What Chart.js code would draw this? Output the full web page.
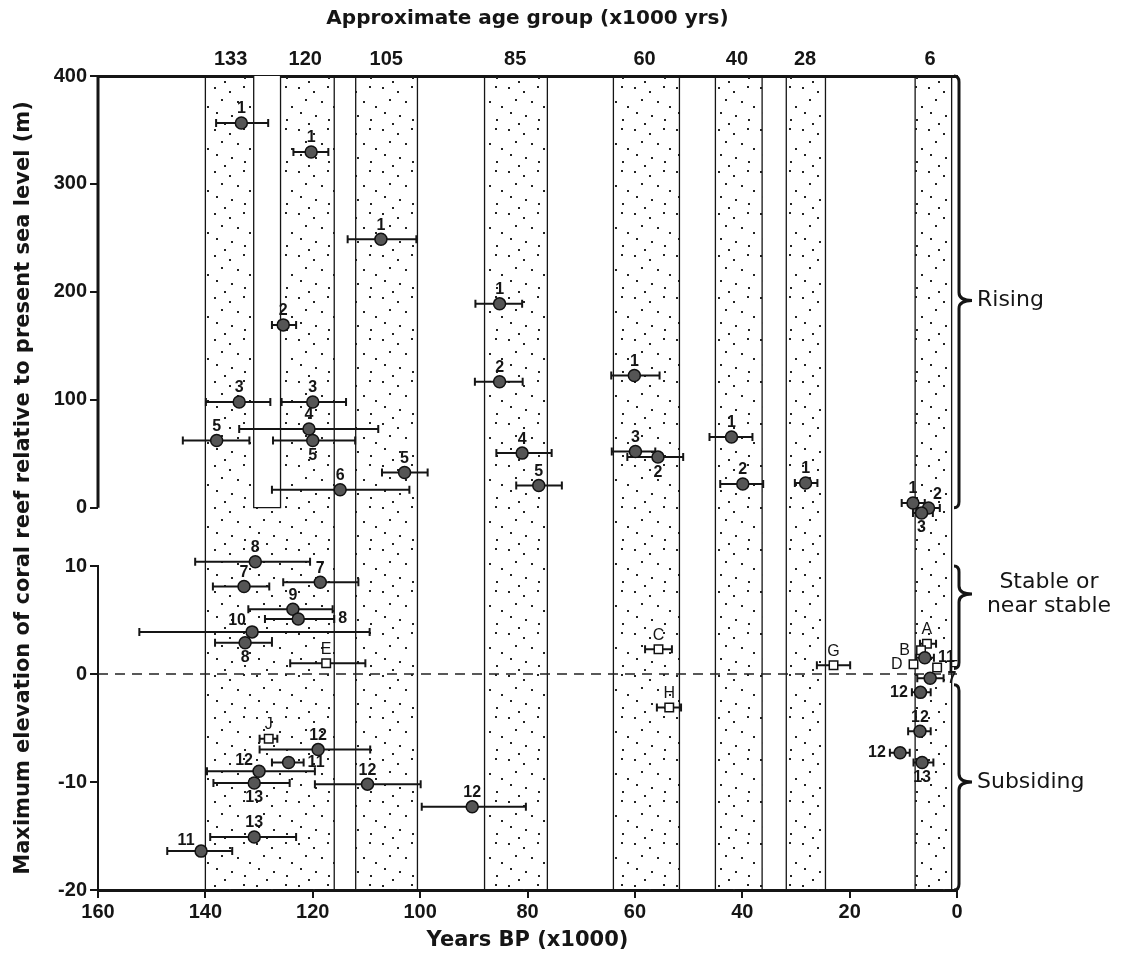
<!DOCTYPE html>
<html lang="en">
<head>
  <meta charset="UTF-8" />
  <title>Coral reef elevation vs age</title>
  <script src="https://cdn.jsdelivr.net/npm/chart.js"></script>
  <style>
    body { margin: 0; padding: 0; background: #fff; }
    #chartContainer { width: 1122px; height: 971px; }
  </style>
</head>
<body>
  <div id="chartContainer"><canvas id="myChart"></canvas></div>

  <script>
    // age groups named along the top (x1000 yrs) and where their names sit
    const ageGroups  = ['133', '120', '105', '85', '60', '40', '28', '6'];
    const ageGroupAt = [135.3, 121.4, 106.3, 82.3, 58.2, 41, 28.3, 5];

    // stippled age bands, years BP (x1000)
    const bandFrom = [140, 112, 88, 64, 45, 31.8, 7.8];
    const bandTo   = [116, 100.5, 76.3, 51.7, 36.3, 24.5, 1];
    // blank strip between the 133 and 120 bands, upper panel only
    const stripFrom = 131, stripTo = 126;

    // upper panel: rising reefs (m)
    const upAge  = [133.3, 120.3, 107.3, 85.2, 125.5, 85.2, 133.7, 120.0, 120.7, 137.9, 120.0, 114.9, 102.9, 81.0, 77.9, 60.1, 59.9, 55.7, 42.0, 39.9, 28.2, 8.2, 5.3, 6.6];
    const upElev = [356.5, 329.6, 248.8, 188.9, 169.4, 116.7, 97.9, 97.9, 72.9, 62.3, 62.3, 16.7, 32.7, 50.6, 20.6, 122.5, 52.1, 46.9, 65.5, 21.9, 22.9, 4.4, -0.3, -4.9];
    const upLo   = [128.3, 117.1, 100.7, 81.0, 123.1, 80.9, 127.9, 113.8, 107.8, 131.8, 112.1, 102.0, 98.6, 75.5, 73.6, 55.4, 56.2, 51.0, 38.1, 36.1, 26.0, 6.0, 3.2, 4.5];
    const upHi   = [138.0, 123.6, 113.5, 89.7, 127.6, 89.8, 139.9, 125.8, 133.7, 144.2, 127.4, 127.6, 107.1, 85.8, 82.1, 64.4, 64.3, 61.4, 46.1, 44.1, 30.2, 10.3, 7.5, 8.2];
    const upTag  = ['1', '1', '1', '1', '2', '2', '3', '3', '4', '5', '5', '6', '5', '4', '5', '1', '3', '2', '1', '2', '1', '1', '2', '3'];

    // lower panel: stable and subsiding reefs (m), dated samples
    const lowAge  = [130.7, 132.8, 118.6, 123.7, 122.7, 131.3, 132.6, 6.0, 5.0, 6.8, 6.9, 10.6, 6.5, 119.0, 124.5, 130.0, 130.9, 109.8, 90.3, 130.9, 140.8];
    const lowElev = [10.4, 8.1, 8.5, 6.0, 5.1, 3.9, 2.9, 1.5, -0.4, -1.7, -5.3, -7.3, -8.2, -7.0, -8.2, -9.0, -10.1, -10.2, -12.3, -15.1, -16.4];
    const lowLo   = [120.5, 128.1, 111.5, 116.3, 116.0, 109.4, 127.6, 4.3, 2.5, 4.9, 4.9, 8.8, 4.4, 109.3, 121.7, 119.6, 124.3, 99.9, 80.3, 123.1, 135.0];
    const lowHi   = [141.9, 138.6, 125.5, 132.0, 128.9, 152.3, 138.2, 7.6, 7.4, 8.4, 9.1, 12.5, 8.1, 129.9, 127.6, 139.7, 138.5, 119.6, 99.7, 139.1, 147.1];
    const lowTag  = ['8', '7', '7', '9', '8', '10', '8', '11', '7', '12', '12', '12', '13', '12', '11', '12', '13', '12', '12', '13', '11'];

    // lower panel: lettered sites (open squares)
    const sqAge  = [117.5, 55.6, 53.6, 23.0, 5.6, 6.7, 8.1, 3.7, 128.2];
    const sqElev = [1.0, 2.3, -3.1, 0.8, 2.8, 2.2, 0.9, 0.6, -6.0];
    const sqLo   = [110.2, 53.1, 51.4, 19.9, 3.9, null, null, null, 126.6];
    const sqHi   = [124.2, 58.1, 55.9, 26.1, 6.9, null, null, null, 129.9];
    const sqTag  = ['E', 'C', 'H', 'G', 'A', 'B', 'D', 'F', 'J'];

    // where each tag sits: a above, b below, r/l beside the bar, al/ar diagonal
    const upSide  = ['a', 'a', 'a', 'a', 'a', 'a', 'a', 'a', 'a', 'a', 'b', 'a', 'a', 'a', 'a', 'a', 'a', 'b', 'a', 'a', 'a', 'a', 'ar', 'b'];
    const lowSide = ['a', 'a', 'a', 'a', 'r', 'al', 'b', 'r', 'r', 'l', 'a', 'l', 'b', 'a', 'r', 'al', 'b', 'a', 'a', 'a', 'al'];
    const sqSide  = ['a', 'a', 'a', 'a', 'a', 'l', 'l', 'r', 'a'];

    // brackets on the right
    const braceAxis = ['yTop', 'yBot', 'yBot'];
    const braceFrom = [400, 10, -1];
    const braceTo   = [0, 0.5, -20];
    const braceTip  = [192, 7.4, -10];
    const braceText = [['Rising'], ['Stable or', 'near stable'], ['Subsiding']];

    const yTitle = 'Maximum elevation of coral reef relative to present sea level (m)';

    const ctx = document.getElementById('myChart').getContext('2d');

    // stipple tile for the age bands
    const tile = document.createElement('canvas');
    tile.width = 42; tile.height = 42;
    const tg = tile.getContext('2d');
    tg.fillStyle = '#222';
    [[4, 3], [19, 7], [33, 2], [11, 15], [27, 17], [39, 22], [6, 28], [21, 31], [34, 35], [14, 39]]
      .forEach(([a, b]) => tg.fillRect(a, b, 2, 2));
    const stipple = ctx.createPattern(tile, 'repeat');

    function pts(age, elev, lo, hi, tag, side) {
      return age.map((a, i) => ({ x: a, y: elev[i], lo: lo[i], hi: hi[i], tag: tag[i], side: side[i] }));
    }

    const ink = '#151515';
    const tickFont = { family: 'Liberation Sans', size: 20, weight: 'bold' };

    const marks = {
      id: 'marks',
      beforeDatasetsDraw(chart) {
        const c = chart.ctx, xs = chart.scales.x;
        const { top, bottom } = chart.chartArea;
        c.save();
        bandFrom.forEach((f, i) => {
          const x0 = xs.getPixelForValue(f), x1 = xs.getPixelForValue(bandTo[i]);
          c.fillStyle = stipple;
          c.fillRect(x0, top, x1 - x0, bottom - top);
          c.strokeStyle = ink; c.lineWidth = 1.3;
          c.beginPath();
          c.moveTo(x0, top); c.lineTo(x0, bottom);
          c.moveTo(x1, top); c.lineTo(x1, bottom);
          c.stroke();
        });
        const s0 = xs.getPixelForValue(stripFrom), s1 = xs.getPixelForValue(stripTo);
        const sy = chart.scales.yTop.getPixelForValue(0);
        c.fillStyle = '#fff';
        c.fillRect(s0, top, s1 - s0, sy - top);
        c.beginPath();
        c.moveTo(s0, top); c.lineTo(s0, sy); c.lineTo(s1, sy); c.lineTo(s1, top);
        c.stroke();

        // horizontal age error bars
        c.strokeStyle = ink; c.lineWidth = 2;
        chart.data.datasets.forEach(ds => {
          if (!ds.tagged) return;
          const ys = chart.scales[ds.yAxisID];
          ds.data.forEach(p => {
            if (p.lo == null) return;
            const a = xs.getPixelForValue(p.hi), b = xs.getPixelForValue(p.lo), y = ys.getPixelForValue(p.y);
            c.beginPath();
            c.moveTo(a, y); c.lineTo(b, y);
            c.moveTo(a, y - 4); c.lineTo(a, y + 4);
            c.moveTo(b, y - 4); c.lineTo(b, y + 4);
            c.stroke();
          });
        });
        c.restore();
      },
      afterDatasetsDraw(chart) {
        const c = chart.ctx, xs = chart.scales.x;
        c.save();
        c.fillStyle = ink;
        c.textBaseline = 'middle';
        chart.data.datasets.forEach(ds => {
          if (!ds.tagged) return;
          const ys = chart.scales[ds.yAxisID];
          ds.data.forEach(p => {
            const px = xs.getPixelForValue(p.x), py = ys.getPixelForValue(p.y);
            const l = p.hi == null ? px - 7 : xs.getPixelForValue(p.hi);
            const r = p.lo == null ? px + 7 : xs.getPixelForValue(p.lo);
            c.font = /\d/.test(p.tag) ? 'bold 16px "Liberation Sans"' : '16px "Liberation Sans"';
            let tx = px, ty = py - 14, al = 'center';
            if (p.side === 'b') ty = py + 15;
            else if (p.side === 'r') { tx = r + 4; al = 'left'; ty = py; }
            else if (p.side === 'l') { tx = l - 4; al = 'right'; ty = py; }
            else if (p.side === 'al') { tx = px - 15; ty = py - 11; }
            else if (p.side === 'ar') { tx = px + 9; ty = py - 13; }
            c.textAlign = al;
            c.fillText(p.tag, tx, ty);
          });
        });
        c.restore();
      },
      afterDraw(chart) {
        const c = chart.ctx, area = chart.chartArea, yT = chart.scales.yTop;
        c.save();
        c.strokeStyle = ink;
        c.lineWidth = 3;
        c.beginPath();
        c.moveTo(area.left, yT.getPixelForValue(400));
        c.lineTo(area.left, yT.getPixelForValue(0));
        c.stroke();

        // right-hand brackets and their words
        const x = area.right + 2;
        c.fillStyle = ink;
        c.font = '22px "DejaVu Sans"';
        c.textBaseline = 'middle';
        braceFrom.forEach((f, i) => {
          const ys = chart.scales[braceAxis[i]];
          const y0 = ys.getPixelForValue(f), y1 = ys.getPixelForValue(braceTo[i]), ym = ys.getPixelForValue(braceTip[i]);
          c.beginPath();
          c.moveTo(x - 5, y0);
          c.quadraticCurveTo(x, y0, x, y0 + 6);
          c.lineTo(x, ym - 8);
          c.quadraticCurveTo(x, ym, x + 13, ym);
          c.quadraticCurveTo(x, ym, x, ym + 8);
          c.lineTo(x, y1 - 6);
          c.quadraticCurveTo(x, y1, x - 5, y1);
          c.stroke();
          const lines = braceText[i];
          if (lines.length > 1) {
            c.textAlign = 'center';
            lines.forEach((t, k) => c.fillText(t, x + 90, ym + (k - (lines.length - 1) / 2) * 24));
          } else {
            c.textAlign = 'left';
            c.fillText(lines[0], x + 18, ym);
          }
        });

        c.translate(24, (area.top + area.bottom) / 2 + 5);
        c.rotate(-Math.PI / 2);
        c.font = 'bold 21px "DejaVu Sans"';
        c.textAlign = 'center';
        c.fillText(yTitle, 0, 0);
        c.restore();
      }
    };

    const chart = new Chart(ctx, {
      type: 'scatter',
      data: {
        datasets: [
          {
            tagged: true,
            data: pts(upAge, upElev, upLo, upHi, upTag, upSide),
            yAxisID: 'yTop',
            clip: false,
            pointRadius: 6, pointStyle: 'circle',
            backgroundColor: '#555', borderColor: '#111', borderWidth: 1.5
          },
          {
            tagged: true,
            data: pts(lowAge, lowElev, lowLo, lowHi, lowTag, lowSide),
            yAxisID: 'yBot',
            clip: false,
            pointRadius: 6, pointStyle: 'circle',
            backgroundColor: '#555', borderColor: '#111', borderWidth: 1.5
          },
          {
            tagged: true,
            data: pts(sqAge, sqElev, sqLo, sqHi, sqTag, sqSide),
            yAxisID: 'yBot',
            clip: false,
            pointRadius: 6, pointStyle: 'rect',
            backgroundColor: '#fff', borderColor: '#111', borderWidth: 1.5
          },
          {
            // present sea level
            type: 'line',
            data: [{ x: 160, y: 0 }, { x: 0, y: 0 }],
            yAxisID: 'yBot',
            showLine: true,
            borderColor: '#222', borderWidth: 1.5, borderDash: [10, 7],
            pointRadius: 0
          }
        ]
      },
      options: {
        responsive: true,
        maintainAspectRatio: false,
        animation: false,
        layout: { padding: { left: 0, right: 165, top: 0, bottom: 0 } },
        plugins: { legend: { display: false }, tooltip: { enabled: false } },
        scales: {
          x: {
            type: 'linear', position: 'bottom', reverse: true, min: 0, max: 160,
            ticks: { stepSize: 20, color: ink, font: tickFont, padding: 2, maxRotation: 0 },
            grid: { drawOnChartArea: false, tickLength: 8, color: ink, lineWidth: 2 },
            border: { display: true, color: ink, width: 3 },
            title: { display: true, text: 'Years BP (x1000)', color: ink, font: { family: 'DejaVu Sans', size: 21, weight: 'bold' }, padding: { top: 0, bottom: 18 } },
            afterFit: s => { s.height = 81; }
          },
          x2: {
            type: 'linear', position: 'top', reverse: true, min: 0, max: 160,
            afterBuildTicks: s => { s.ticks = ageGroupAt.map(v => ({ value: v })); },
            ticks: { callback: (v, i) => ageGroups[i], autoSkip: false, maxRotation: 0, color: ink, font: tickFont, padding: 5 },
            grid: { display: false, drawTicks: false },
            border: { display: true, color: ink, width: 3 },
            title: { display: true, text: 'Approximate age group (x1000 yrs)', color: ink, font: { family: 'DejaVu Sans', size: 20, weight: 'bold' }, padding: { top: 7, bottom: 0 } },
            afterFit: s => { s.height = 76; }
          },
          // stacked left axes: the one listed last sits on top
          yBot: {
            type: 'linear', position: 'left', stack: 'elev', stackWeight: 324, min: -20, max: 10,
            ticks: { stepSize: 10, color: ink, font: tickFont, padding: 3 },
            grid: { drawOnChartArea: false, tickLength: 8, color: ink, lineWidth: 2 },
            border: { display: true, color: ink, width: 2 },
            afterFit: s => { s.width = 98; }
          },
          yTop: {
            type: 'linear', position: 'left', stack: 'elev', stackWeight: 490, min: -54, max: 400,
            afterBuildTicks: s => { s.ticks = [0, 100, 200, 300, 400].map(v => ({ value: v })); },
            ticks: { color: ink, font: tickFont, padding: 3 },
            grid: { drawOnChartArea: false, tickLength: 8, color: ink, lineWidth: 2 },
            border: { display: false },
            afterFit: s => { s.width = 98; }
          }
        }
      },
      plugins: [marks]
    });
  </script>
</body>
</html>
